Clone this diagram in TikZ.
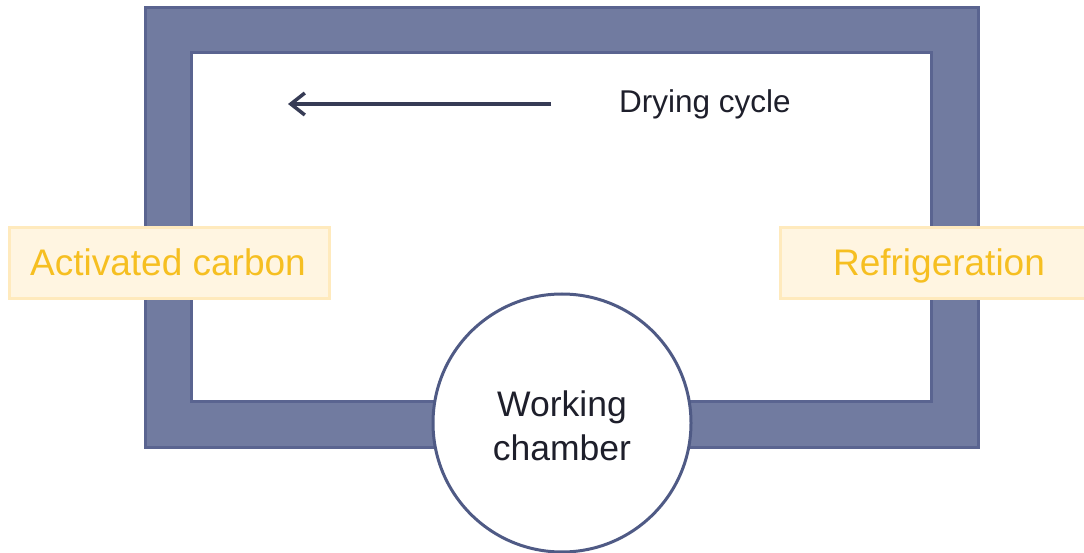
\documentclass[tikz,border=0pt]{standalone}
\usepackage{fontspec}
\setmainfont{Liberation Sans}
\usetikzlibrary{arrows.meta}
\definecolor{frameFill}{HTML}{717BA0}
\definecolor{frameEdge}{HTML}{5A6490}
\definecolor{boxFill}{HTML}{FFF5E1}
\definecolor{boxEdge}{HTML}{FFEABD}
\definecolor{boxText}{HTML}{F6BF21}
\definecolor{circEdge}{HTML}{4F5A85}
\definecolor{darkText}{HTML}{1E1F2B}
\definecolor{arrowCol}{HTML}{363B55}
\tikzset{
  labelbox/.style={draw=boxEdge, line width=3pt, fill=boxFill, inner sep=0pt, anchor=north west},
  labeltext/.style={text=boxText, font=\fontsize{37}{40}\selectfont, anchor=base},
  chamber/.style={circle, draw=circEdge, line width=3pt, fill=white, minimum size=258pt, inner sep=0pt},
  chambertext/.style={text=darkText, align=center, font=\fontsize{35.5}{44}\selectfont},
}
\begin{document}
\begin{tikzpicture}[x=1pt,y=-1pt]
\useasboundingbox (0,0) rectangle (1084,553);
% frame
\fill[frameFill, even odd rule] (145,8) rectangle (978,447) (191,53) rectangle (931,401);
\draw[frameEdge, line width=3pt] (145,8) rectangle (978,447);
\draw[frameEdge, line width=3pt] (191,53) rectangle (931,401);
% boxes
\node[labelbox, minimum width=320pt, minimum height=71pt] (ac) at (8,226) {};
\node[labeltext] (actext) at (168,276) {Activated carbon};
\node[labelbox, minimum width=310pt, minimum height=71pt] (rf) at (779,226) {};
\node[labeltext] (rftext) at (939,276) {Refrigeration};
% chamber
\node[chamber] (wc) at (562,423) {};
\node[chambertext] (wctext) at (562,426) {Working\\chamber};
% arrow
\coordinate (as) at (551,104);
\coordinate (ae) at (288,104);
\draw[arrowCol, line width=3.5pt, -{Straight Barb[length=14pt, width=22pt, line width=3.5pt]}] (as) -- (ae);
\node[text=darkText, font=\fontsize{31.5}{36}\selectfont, anchor=west, inner sep=0pt] (dc) at (619,104) {Drying cycle};
\end{tikzpicture}
\end{document}
